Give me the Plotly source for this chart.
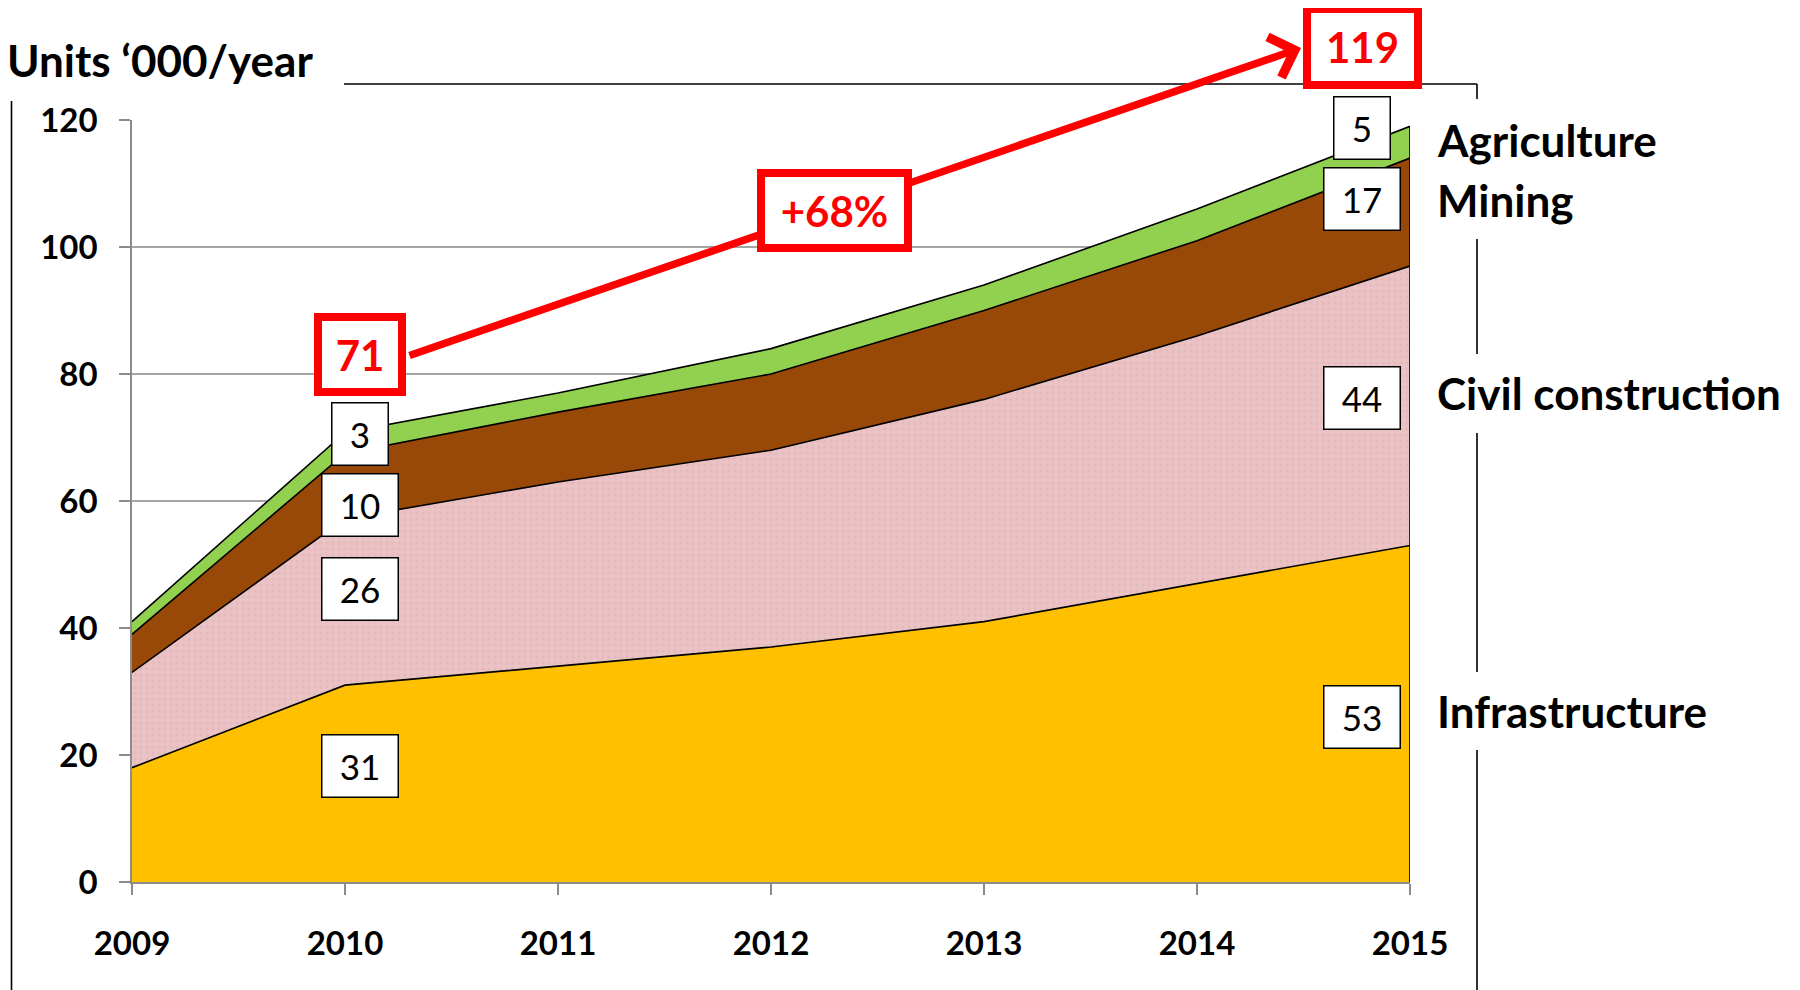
import plotly.graph_objects as go

# ---------------- data ----------------
years = [2009, 2010, 2011, 2012, 2013, 2014, 2015]
infrastructure = [18, 31.0, 34, 37, 41, 47, 53]
civil_construction = [15, 26.2, 29, 31, 35, 39, 44]
mining = [6, 10.3, 11, 12, 14, 15, 17]
agriculture = [2, 3.3, 3, 4, 4, 5, 5]
series_names = ["Infrastructure", "Civil construction", "Mining", "Agriculture"]
y_ticks = [0, 20, 40, 60, 80, 100, 120]
title_text = "Units \u2018000/year"

# ---------------- layout constants ----------------
OFF = 8  # page body margin
W, H = 1800 - OFF, 990 - OFF
ML, MT = 132 - OFF, 120 - OFF
PW, PH = 1278, 762
MR, MB = W - ML - PW, H - MT - PH
FONT = "Lato, 'Open Sans', sans-serif"
AXIS_GREY = "#8c8c8c"
GRID_GREY = "#a4a4a4"
RED = "#ff0000"


def px(xpix):
    return (xpix - OFF - ML) / PW


def py(ypix):
    return 1 - (ypix - OFF - MT) / PH


series = [infrastructure, civil_construction, mining, agriculture]
fills = ["#ffc000", "#ecc4c6", "#984807", "#92d050"]
totals = [sum(v) for v in zip(*series)]

fig = go.Figure()
for name, vals, col in zip(series_names, series, fills):
    kw = {}
    if name == "Civil construction":
        kw["fillpattern"] = dict(shape=".", bgcolor="#ebc3c5", fgcolor="#ddb2b5",
                                 size=6, solidity=0.3)
    fig.add_trace(go.Scatter(
        x=years, y=vals, name=name, mode="lines", stackgroup="one",
        line=dict(color="black", width=1.6), fillcolor=col,
        hoverinfo="skip", showlegend=False, **kw))

# right edge of the stacked area
fig.add_trace(go.Scatter(x=[years[-1], years[-1]], y=[0, totals[-1]], mode="lines",
                         line=dict(color="black", width=1.6), hoverinfo="skip",
                         showlegend=False))

annotations = []

# title
annotations.append(dict(xref="paper", yref="paper", x=px(5), y=py(60), xanchor="left",
                        yanchor="middle", text=title_text, showarrow=False,
                        font=dict(family=FONT, size=44, color="black", weight="bold")))

# series labels on the right
label_y = {"Agriculture": 140, "Mining": 200, "Civil construction": 393, "Infrastructure": 711}
for name in series_names:
    annotations.append(dict(xref="paper", yref="paper", x=px(1435), y=py(label_y[name]),
                            xanchor="left", yanchor="middle", text=name, showarrow=False,
                            font=dict(family=FONT, size=44, color="black", weight="bold")))

# value boxes (2010 and 2015)
box_pos_2010 = [18.2, 46.1, 59.3, 70.6]
box_pos_2015 = [26.0, 76.3, 107.6, 118.8]
for vals, ypos in zip(series, box_pos_2010):
    t = f"{vals[1]:.0f}"
    annotations.append(dict(x=years[1], y=ypos, xshift=15, text=t, showarrow=False,
                            font=dict(family=FONT, size=35, color="black"),
                            bgcolor="white", bordercolor="black", borderwidth=1.5,
                            borderpad=1, width=73 if len(t) > 1 else 53, height=59))
for vals, ypos in zip(series, box_pos_2015):
    t = f"{vals[-1]:.0f}"
    annotations.append(dict(x=years[-1], y=ypos, xshift=-48, text=t, showarrow=False,
                            font=dict(family=FONT, size=35, color="black"),
                            bgcolor="white", bordercolor="black", borderwidth=1.5,
                            borderpad=1, width=73 if len(t) > 1 else 53, height=59))

# red growth arrow
tip = (1301, 48)
tail = (408, 356)
annotations.append(dict(xref="paper", yref="paper", x=px(tip[0]), y=py(tip[1]),
                        ax=tail[0] - tip[0], ay=tail[1] - tip[1], text="",
                        showarrow=True, arrowhead=4, arrowsize=1.1, arrowwidth=7.5,
                        arrowcolor=RED))

growth = (totals[-1] / totals[1] - 1) * 100
red_boxes = [
    (f"{totals[1]:.0f}", 360, 354.5, 76, 67),
    (f"+{growth:.0f}%", 834.5, 210.5, 139, 67),
    (f"{totals[-1]:.0f}", 1362, 47, 103, 68),
]
for t, cx, cy, w, h in red_boxes:
    annotations.append(dict(xref="paper", yref="paper", x=px(cx), y=py(cy), text=t,
                            showarrow=False, xanchor="center", yanchor="middle",
                            font=dict(family=FONT, size=42, color=RED, weight="bold"),
                            bgcolor="white", bordercolor=RED, borderwidth=8,
                            borderpad=0, width=w, height=h))

# outer frame segments (partly hidden by the title and labels)
frame = [
    ((344, 84), (1477, 84)),
    ((1477, 84), (1477, 99)),
    ((1477, 239), (1477, 354)),
    ((1477, 433), (1477, 672)),
    ((1477, 750), (1477, 990)),
    ((11.5, 101), (11.5, 990)),
]
shapes = [dict(type="line", xref="paper", yref="paper", x0=px(a[0]), y0=py(a[1]),
               x1=px(b[0]), y1=py(b[1]), line=dict(color="black", width=1.6))
          for a, b in frame]

fig.update_layout(
    width=W, height=H, autosize=False,
    margin=dict(l=ML, r=MR, t=MT, b=MB),
    paper_bgcolor="white", plot_bgcolor="white",
    annotations=annotations, shapes=shapes,
    xaxis=dict(range=[years[0], years[-1]], tickvals=years, ticktext=[str(y) for y in years],
               ticks="outside", ticklen=11, tickwidth=1.5, tickcolor=AXIS_GREY,
               showline=True, linecolor=AXIS_GREY, linewidth=1.5, showgrid=False,
               zeroline=False, ticklabelstandoff=21,
               tickfont=dict(family=FONT, size=33, color="black", weight="bold")),
    yaxis=dict(range=[0, 120], tickvals=y_ticks, ticks="outside", ticklen=11,
               tickwidth=1.5, tickcolor=AXIS_GREY, showline=True, linecolor=AXIS_GREY,
               linewidth=1.5, showgrid=True, gridcolor=GRID_GREY, gridwidth=2,
               zeroline=False, ticklabelstandoff=15,
               tickfont=dict(family=FONT, size=33, color="black", weight="bold")),
)

fig.write_html("out.html")
